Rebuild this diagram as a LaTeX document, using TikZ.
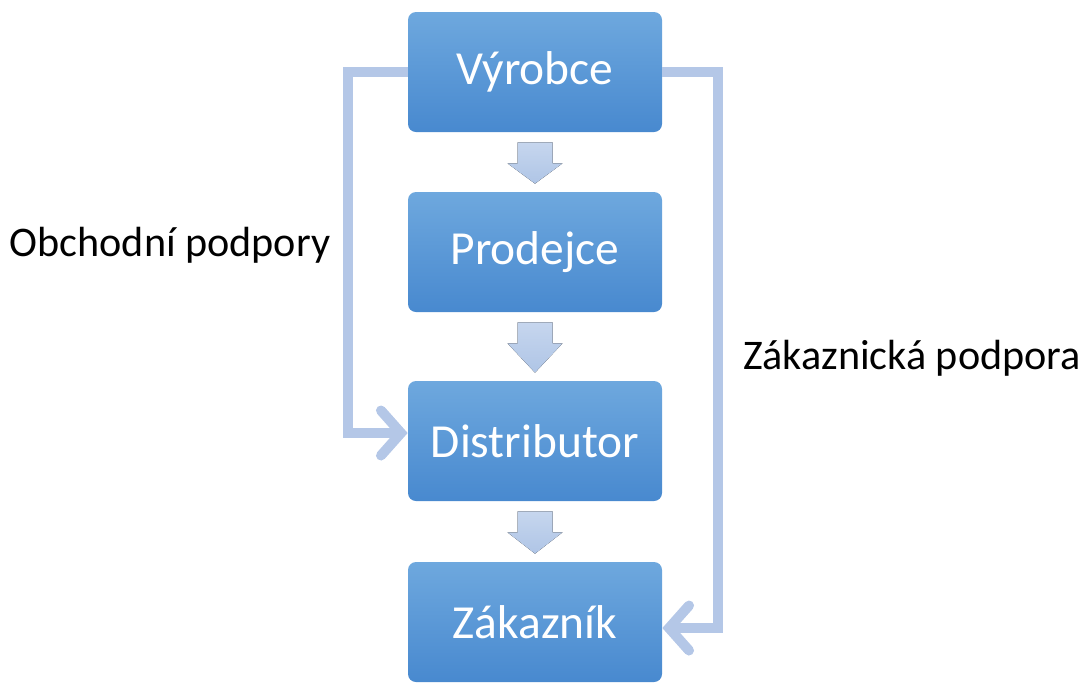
\documentclass[tikz,border=0pt]{standalone}
\usepackage{fontspec}
\setmainfont{Carlito}
\usetikzlibrary{arrows.meta,calc}
\definecolor{boxtop}{HTML}{6EA8DE}
\definecolor{boxbot}{HTML}{4889CF}
\definecolor{flowtop}{HTML}{C6D6EE}
\definecolor{flowbot}{HTML}{AFC5E6}
\definecolor{linkblue}{HTML}{B4C7E7}
\tikzset{
  stage/.style={rectangle, rounded corners=0.16cm, minimum width=5.08cm, minimum height=2.4cm,
    top color=boxtop, bottom color=boxbot, text=white, font=\fontsize{27pt}{32pt}\selectfont},
  link/.style={draw=linkblue, line width=0.2cm, line cap=butt,
    -{Straight Barb[length=0.4cm,width=0.9cm,line cap=round]}},
  flow/.style={top color=flowtop, bottom color=flowbot, draw=none},
  caption/.style={font=\fontsize{24pt}{28pt}\selectfont}
}
\begin{document}
\begin{tikzpicture}
\useasboundingbox (0,0) rectangle (21.8,-13.64);

\node[stage] (vyr) at (10.7,-1.44) {Výrobce};
\node[stage] (pro) at (10.7,-5.04) {Prodejce};
\node[stage] (dis) at (10.7,-8.82) {Distributor};
\node[stage] (zak) at (10.7,-12.44) {Zákazník};

\foreach \a/\b in {vyr/pro,pro/dis,dis/zak} {
    \fill[flow] ($(\a.south)+(-0.35,-0.2)$) -- ++(0.7,0) -- ++(0,-0.42) -- ++(0.2,0)
        -- ($(\b.north)+(0,0.16)$) -- ($(\a.south)+(-0.55,-0.62)$) -- ++(0.2,0) -- cycle;
}

\draw[link] (vyr.west) -- ++(-1.2,0) |- ([yshift=0.16cm]dis.west);
\draw[link] (vyr.east) -- ++(1.12,0) |- ([yshift=-0.12cm]zak.east);

\node[caption] (obch) at (3.4,-4.9) {Obchodní podpory};
\node[caption] (zakp) at (18.24,-7.16) {Zákaznická podpora};
\end{tikzpicture}
\end{document}
